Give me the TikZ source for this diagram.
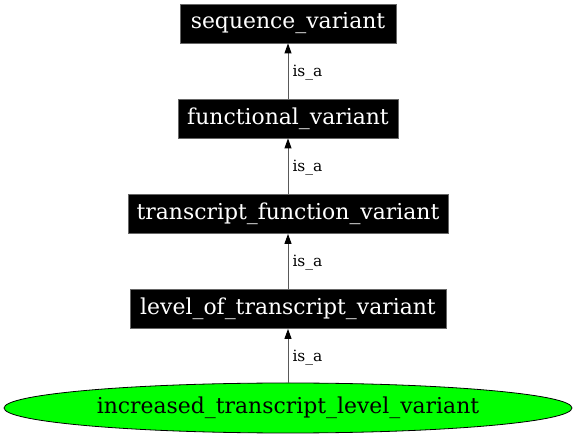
\documentclass[tikz,border=0pt]{standalone}
\usepackage{fontspec}
\setmainfont{DejaVu Serif}
\usetikzlibrary{arrows.meta,shapes.geometric}
\tikzset{
  termbox/.style={rectangle, fill=black, draw=black!60, line width=0.8pt, text=white, inner sep=0pt,
    minimum height=39pt, font=\fontsize{21.9}{24}\selectfont},
  leafnode/.style={ellipse, fill=green, draw=black, line width=0.8pt, inner sep=0pt,
    minimum width=568pt, minimum height=50pt, font=\fontsize{21.9}{24}\selectfont},
  isa/.style={draw=black!65, line width=1pt, -{Triangle[length=10pt,width=7pt,fill=black,color=black]}},
  edgelab/.style={font=\fontsize{15.5}{17}\selectfont, anchor=west, inner sep=0pt, xshift=4pt, yshift=-1.5pt}
}
\begin{document}
\begin{tikzpicture}[x=1pt,y=-1pt]
\useasboundingbox (0,0) rectangle (576,435);
\node[termbox, minimum width=216pt] (sv) at (288,23.5) {sequence\_variant};
\node[termbox, minimum width=220pt] (fv) at (288,118.5) {functional\_variant};
\node[termbox, minimum width=320pt] (tfv) at (288,214) {transcript\_function\_variant};
\node[termbox, minimum width=316pt] (lotv) at (288,309) {level\_of\_transcript\_variant};
\node[leafnode] (itlv) at (288,408) {increased\_transcript\_level\_variant};
\draw[isa] (fv.north) -- node[edgelab]{is\_a} (sv.south);
\draw[isa] (tfv.north) -- node[edgelab]{is\_a} (fv.south);
\draw[isa] (lotv.north) -- node[edgelab]{is\_a} (tfv.south);
\draw[isa] (itlv.north) -- node[edgelab]{is\_a} (lotv.south);
\end{tikzpicture}
\end{document}
